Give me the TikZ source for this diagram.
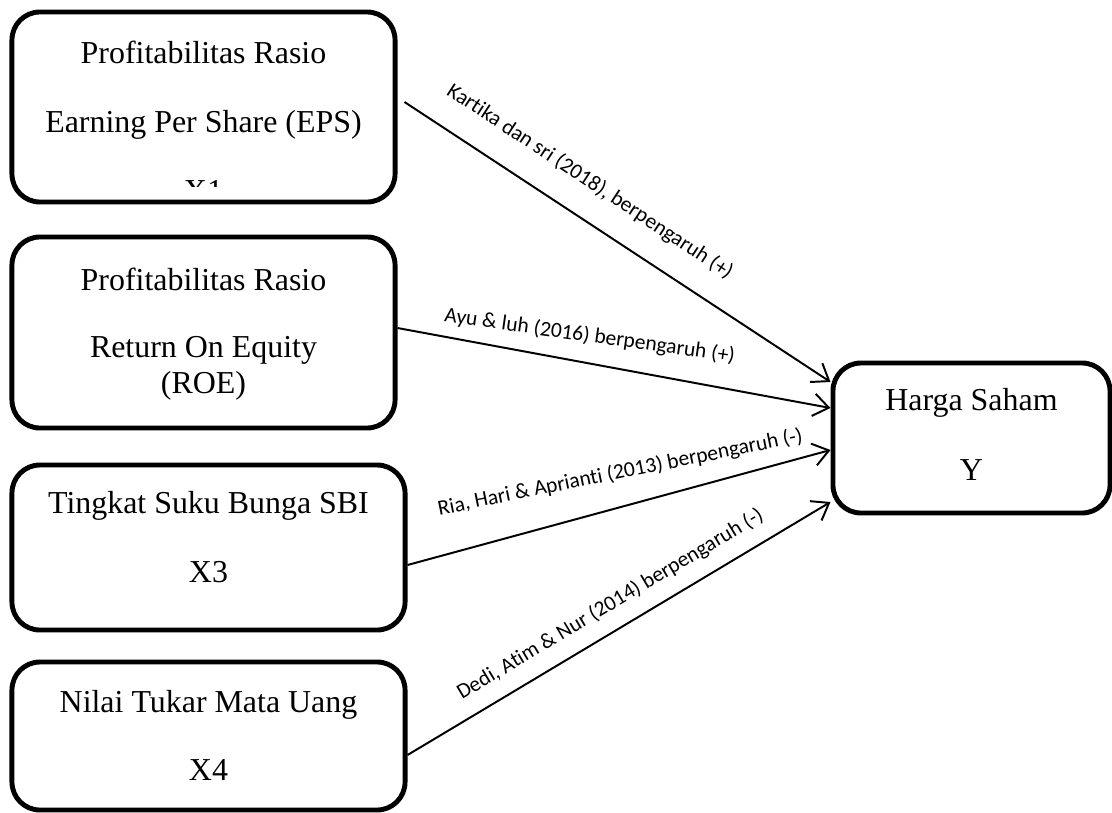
\documentclass[tikz,border=0pt]{standalone}
\usepackage{fontspec}
\setmainfont{Liberation Serif}
\newfontfamily\lblfont[Ligatures=NoCommon]{Carlito}
\usetikzlibrary{arrows.meta,positioning,calc}

\begin{document}
\begin{tikzpicture}[
    x=0.025cm, y=-0.025cm,
    box/.style={draw, line width=3.5pt, rounded corners=0.7cm, inner sep=0pt},
    txt/.style={anchor=base, font=\fontsize{22.7}{27}\selectfont, inner sep=0pt},
    arr/.style={-{Straight Barb[length=11pt,width=16pt]}, line width=1.4pt},
    lbl/.style={font=\lblfont\fontsize{15.3}{18}\selectfont, inner sep=0pt}
]
\useasboundingbox (0,0) rectangle (1112,812);

% boxes
\node[box, minimum width=9.575cm, minimum height=4.75cm] (eps) at (203.5,107) {};
\node[box, minimum width=9.575cm, minimum height=4.775cm] (roe) at (203.5,332.5) {};
\node[box, minimum width=9.825cm, minimum height=4.125cm] (sbi) at (208.5,547.5) {};
\node[box, minimum width=9.825cm, minimum height=3.7cm] (kurs) at (208.5,736) {};
\node[box, minimum width=6.925cm, minimum height=3.75cm] (harga) at (971.5,438) {};

% texts
\node[txt] (eps1) at (203.5,63) {Profitabilitas Rasio};
\node[txt] (eps2) at (203.5,132) {Earning Per Share (EPS)};
\begin{scope}
  \clip (150,150) rectangle (260,186);
  \node[txt] (eps3) at (203.5,201) {X1};
\end{scope}
\node[txt] (roe1) at (203.5,290) {Profitabilitas Rasio};
\node[txt] (roe2) at (203.5,357) {Return On Equity};
\node[txt] (roe3) at (203.5,393) {(ROE)};
\node[txt] (sbi1) at (208.5,513) {Tingkat Suku Bunga SBI};
\node[txt] (sbi2) at (208.5,582) {X3};
\node[txt] (kurs1) at (208.5,712) {Nilai Tukar Mata Uang};
\node[txt] (kurs2) at (208.5,780) {X4};
\node[txt] (harga1) at (971.5,410) {Harga Saham};
\node[txt] (harga2) at (971.5,480) {Y};

% arrows
\draw[arr] ([shift={(7,-5)}]eps.east) -- ([shift={(0,-56)}]harga.west)
    node[lbl, sloped, pos=0.39, yshift=25pt] (l1) {Kartika dan sri (2018), berpengaruh (+)};
\draw[arr] ([shift={(0,-4.5)}]roe.east) -- ([shift={(0,-30)}]harga.west)
    node[lbl, pos=0.444, yshift=19.5pt, rotate=-8] (l2) {Ayu \& luh (2016) berpengaruh (+)};
\draw[arr] ([shift={(0,17.5)}]sbi.east) -- ([shift={(0,12)}]harga.west)
    node[lbl, pos=0.503, yshift=24.5pt, rotate=11.4] (l3) {Ria, Hari \& Aprianti (2013) berpengaruh (-)};
\draw[arr] ([shift={(0,19)}]kurs.east) -- ([shift={(0,64)}]harga.west)
    node[lbl, sloped, pos=0.51, yshift=18pt] (l4) {Dedi, Atim \& Nur (2014) berpengaruh (-)};
\end{tikzpicture}
\end{document}
